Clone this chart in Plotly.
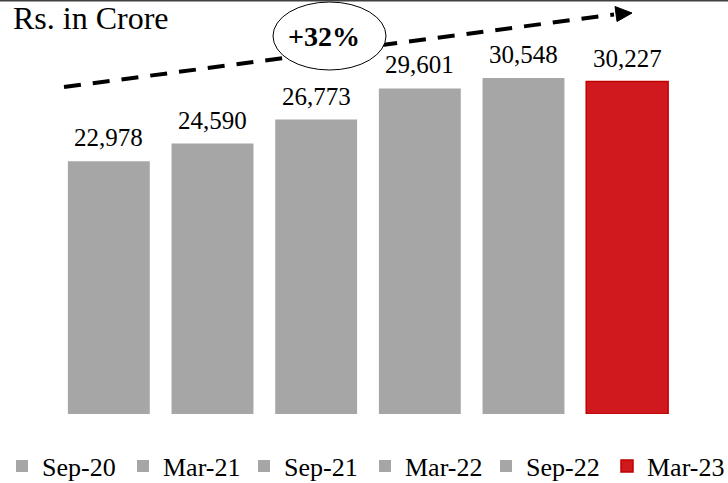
import plotly.graph_objects as go

categories = ["Sep-20", "Mar-21", "Sep-21", "Mar-22", "Sep-22", "Mar-23"]
values = [22978, 24590, 26773, 29601, 30548, 30227]
bar_colors = ["#A6A6A6", "#A6A6A6", "#A6A6A6", "#A6A6A6", "#A6A6A6", "#D0191F"]
line_colors = ["#A6A6A6", "#A6A6A6", "#A6A6A6", "#A6A6A6", "#A6A6A6", "#C00000"]
unit_label = "Rs. in Crore"
growth_label = "+32%"

W, H = 728, 483
ML, MR, MT, MB = 57, 0, 0, 69
PW, PH = W - ML - MR, H - MT - MB
BAR_AREA_RIGHT = 679  # right edge of category band (px)

def px(x):
    return (x - ML) / PW

def py(y):
    return (H - MB - y) / PH

FONT = "Liberation Serif"

fig = go.Figure()
for c, v, col, lc in zip(categories, values, bar_colors, line_colors):
    fig.add_trace(go.Bar(
        x=[c], y=[v], name=c,
        marker=dict(color=col, line=dict(color=lc, width=1.5 if lc != col else 0)),
        hoverinfo="skip",
    ))

annotations = []
for c, v in zip(categories, values):
    annotations.append(dict(
        x=c, y=v, xref="x", yref="y", text=f"{v:,}", showarrow=False,
        yanchor="bottom", yshift=8, font=dict(family=FONT, size=25, color="#000000"),
    ))

annotations.append(dict(
    x=px(11), y=py(18), xref="paper", yref="paper", text=unit_label, showarrow=False,
    xanchor="left", yanchor="middle", font=dict(family=FONT, size=32, color="#000000"),
))

shapes = [
    dict(type="line", xref="paper", yref="paper", x0=px(0), x1=px(W), y0=py(0.5), y1=py(0.5),
         line=dict(color="#404040", width=2), layer="above"),
    dict(type="line", xref="paper", yref="paper", x0=px(64), y0=py(87), x1=px(614), y1=py(14.5),
         line=dict(color="#000000", width=4, dash="17px,12px"), layer="above"),
    dict(type="path", xref="paper", yref="paper",
         path=f"M {px(632)},{py(13)} L {px(615)},{py(6.5)} L {px(617)},{py(21.5)} Z",
         fillcolor="#000000", line=dict(color="#000000", width=1), layer="above"),
    dict(type="circle", xref="paper", yref="paper", x0=px(273), x1=px(386), y0=py(70), y1=py(2),
         fillcolor="#FFFFFF", line=dict(color="#000000", width=1), layer="above"),
]

annotations.append(dict(
    x=px(324), y=py(36), xref="paper", yref="paper", text=f"<b>{growth_label}</b>", showarrow=False,
    xanchor="center", yanchor="middle", font=dict(family=FONT, size=28, color="#000000"),
))

fig.update_layout(
    width=W, height=H,
    margin=dict(l=ML, r=MR, t=MT, b=MB, pad=0, autoexpand=False),
    paper_bgcolor="#FFFFFF", plot_bgcolor="#FFFFFF",
    font=dict(family=FONT),
    barmode="overlay", bargap=0.21,
    xaxis=dict(domain=[0, px(BAR_AREA_RIGHT)], showticklabels=False, showgrid=False,
               zeroline=False, showline=False, ticks=""),
    yaxis=dict(range=[0, PH / 0.011], visible=False, showgrid=False),
    showlegend=True,
    legend=dict(orientation="h", x=px(2), xanchor="left", y=py(466), yanchor="middle",
                font=dict(family=FONT, size=26, color="#000000"), itemclick=False,
                entrywidth=76, entrywidthmode="pixels",
                bgcolor="rgba(0,0,0,0)", traceorder="normal"),
    annotations=annotations, shapes=shapes,
)

fig.write_html("out.html", config={"displayModeBar": False},
               post_script="document.body.style.margin='0px';document.body.style.padding='0px';")
